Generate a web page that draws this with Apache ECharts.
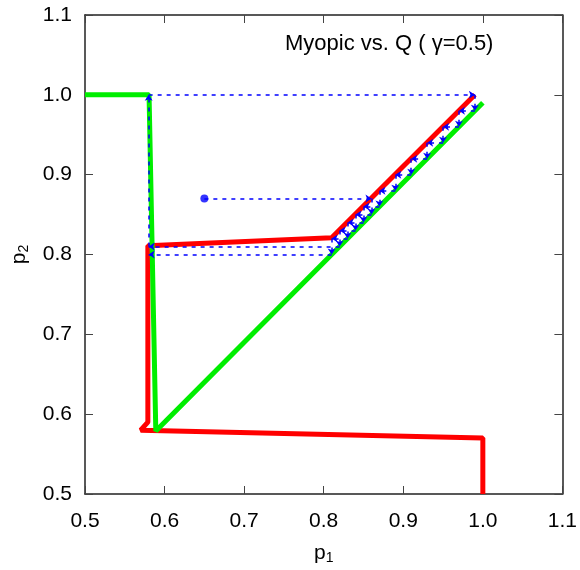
<!DOCTYPE html>
<html><head><meta charset="utf-8">
<script src="https://cdn.jsdelivr.net/npm/echarts@6/dist/echarts.min.js"></script>
<style>html,body{margin:0;padding:0;background:#fff}#c{width:580px;height:570px}</style>
</head><body><div id="c"></div>
<script>
// Axis ticks
var xTicks = [0.5, 0.6, 0.7, 0.8, 0.9, 1.0, 1.1];
var yTicks = [0.5, 0.6, 0.7, 0.8, 0.9, 1.0, 1.1];
// Red curve (Q)
var redX = [1.0, 1.0, 0.57, 0.579, 0.579, 0.81, 0.99];
var redY = [0.5, 0.57, 0.58, 0.59, 0.811, 0.821, 1.0];
// Green curve (Myopic)
var greenX = [0.5, 0.5805, 0.589, 1.0];
var greenY = [1.0, 1.0, 0.579, 0.99];
// Blue dynamics path (cobweb)
var pathX = [0.65, 0.86, 0.86, 0.84, 0.84, 0.82, 0.82, 0.58, 0.58, 0.99, 0.99, 0.97, 0.97, 0.95, 0.95, 0.93, 0.93, 0.91, 0.91, 0.89, 0.89, 0.87, 0.87, 0.85, 0.85, 0.83, 0.83, 0.81, 0.81, 0.58];
var pathY = [0.87, 0.87, 0.85, 0.85, 0.83, 0.83, 0.81, 0.81, 1.0, 1.0, 0.98, 0.98, 0.96, 0.96, 0.94, 0.94, 0.92, 0.92, 0.90, 0.90, 0.88, 0.88, 0.86, 0.86, 0.84, 0.84, 0.82, 0.82, 0.80, 0.80];
var startPoint = [0.65, 0.87];
var titleText = 'Myopic vs. Q ( \u03b3=0.5)';

function zip(a, b) { return a.map(function (v, i) { return [v, b[i]]; }); }
var segs = [];
for (var i = 0; i < pathX.length - 1; i++) {
  segs.push({ coords: [[pathX[i], pathY[i]], [pathX[i + 1], pathY[i + 1]]] });
}
var font = 'Liberation Sans, Arial, sans-serif';
var fmt = function (v) { return v.toFixed(1); };
var chart = echarts.init(document.getElementById('c'), null, { renderer: 'canvas' });
var axisCommon = {
  type: 'value', min: 0.5, max: 1.1, interval: 0.1,
  axisLine: { show: true, onZero: false, lineStyle: { color: '#222', width: 1.5 } },
  axisTick: { show: true, inside: true, length: 8, lineStyle: { color: '#444' } },
  splitLine: { show: false }
};
var nameRich = {
  a: { fontSize: 21, fontFamily: font, color: '#000' },
  b: { fontSize: 14, fontFamily: font, color: '#000', verticalAlign: 'bottom', padding: [10, 0, 0, 0] }
};
chart.setOption({
  animation: false,
  grid: { left: 85, right: 15, top: 15, bottom: 75, containLabel: false },
  xAxis: [
    Object.assign({}, axisCommon, {
      position: 'bottom',
      axisLabel: { formatter: fmt, fontSize: 21, color: '#000', fontFamily: font, margin: 17 },
      name: '{a|p}{b|1}', nameLocation: 'middle', nameGap: 47,
      nameTextStyle: { rich: nameRich }
    }),
    Object.assign({}, axisCommon, { position: 'top', axisLabel: { show: false } })
  ],
  yAxis: [
    Object.assign({}, axisCommon, {
      position: 'left',
      axisLabel: { formatter: fmt, fontSize: 21, color: '#000', fontFamily: font, margin: 13 },
      name: '{a|p}{b|2}', nameLocation: 'middle', nameGap: 54, nameRotate: 90,
      nameTextStyle: { rich: nameRich }
    }),
    Object.assign({}, axisCommon, { position: 'right', axisLabel: { show: false } })
  ],
  series: [
    { type: 'line', data: zip(redX, redY), showSymbol: false, symbol: 'none',
      lineStyle: { color: '#ff0000', width: 5 }, z: 2 },
    { type: 'line', data: zip(greenX, greenY), showSymbol: false, symbol: 'none',
      lineStyle: { color: '#00ee00', width: 5 }, z: 3 },
    { type: 'lines', coordinateSystem: 'cartesian2d', data: segs,
      symbol: ['none', 'arrow'], symbolSize: 6,
      itemStyle: { color: '#0000ff' },
      lineStyle: { color: '#0000ff', width: 1.5, type: [4, 5], opacity: 1 }, z: 4 },
    { type: 'scatter', data: [startPoint], symbol: 'circle', symbolSize: 8,
      itemStyle: { color: '#0000ff' }, z: 5 }
  ],
  graphic: [
    { type: 'text', left: 285, top: 33, style: { text: titleText, fontSize: 22, fontFamily: font, fill: '#000' } }
  ]
});
</script></body></html>
